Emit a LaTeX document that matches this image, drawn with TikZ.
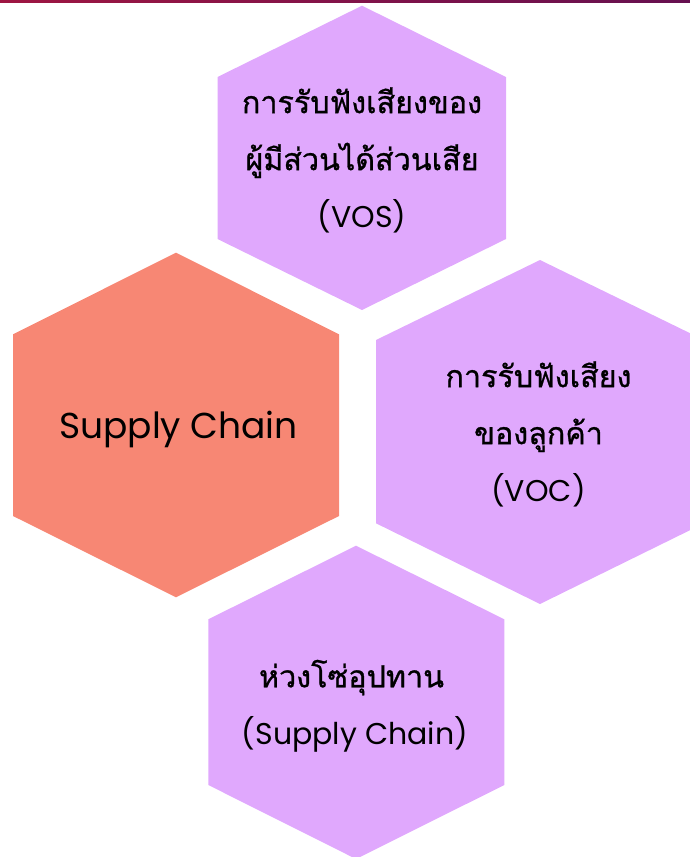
\documentclass[tikz,border=0pt]{standalone}
\usepackage{fontspec}
\newfontfamily\thaifont[Script=Thai,FakeBold=0.9]{Loma}
\newfontfamily\latfont{Poppins}
\definecolor{hexpurple}{RGB}{224,168,253}
\definecolor{hexsalmon}{RGB}{247,135,116}
\definecolor{barleft}{RGB}{158,22,66}
\definecolor{barright}{RGB}{102,16,80}
\tikzset{
  hexpur/.style={fill=hexpurple, draw=none},
  hexsal/.style={fill=hexsalmon, draw=none},
  lbl/.style={font=\thaifont\fontsize{30.5}{57}\selectfont, align=center, inner sep=0pt, text=black},
  latlbl/.style={font=\latfont\fontsize{30}{57}\selectfont},
  biglbl/.style={font=\latfont\fontsize{36}{44}\selectfont, inner sep=0pt, text=black}
}
\begin{document}
\begin{tikzpicture}[x=1pt,y=-1pt]
\useasboundingbox (0,0) rectangle (690,857);
\clip (0,0) rectangle (690,857);
% top bar
\shade[left color=barleft, right color=barright] (0,0) rectangle (690,2.2);
% hexagon VOS
\path[hexpur] (362,5.7) -- (506,77) -- (506,239) -- (362,310) -- (217.5,239) -- (217.5,77) -- cycle;
% hexagon Supply Chain
\path[hexsal] (176,252.7) -- (339,334.3) -- (339,516) -- (176,597.3) -- (13,516) -- (13,334.3) -- cycle;
% hexagon VOC
\path[hexpur] (540,260) -- (704,340) -- (704,523.3) -- (540,604) -- (376,523.3) -- (376,340) -- cycle;
% hexagon Supply Chain (bottom)
\path[hexpur] (356,545.7) -- (504.3,619.3) -- (504.3,785) -- (356,859) -- (208.3,785) -- (208.3,619.3) -- cycle;
% labels
\node[lbl] (vos) at (362,160) {การรับฟังเสียงของ\\ผู้มีส่วนได้ส่วนเสีย\\{\latfont\fontsize{30}{57}\selectfont (VOS)}};
\node[biglbl, anchor=base] (sc) at (178.5,438) {Supply Chain};
\node[lbl] (voc) at (538.5,434) {การรับฟังเสียง\\ของลูกค้า\\{\latfont\fontsize{30}{57}\selectfont (VOC)}};
\node[lbl] (chain) at (355,706) {ห่วงโซ่อุปทาน\hspace*{7pt}\\{\latfont\fontsize{30}{57}\selectfont (Supply Chain)}};
\end{tikzpicture}
\end{document}
